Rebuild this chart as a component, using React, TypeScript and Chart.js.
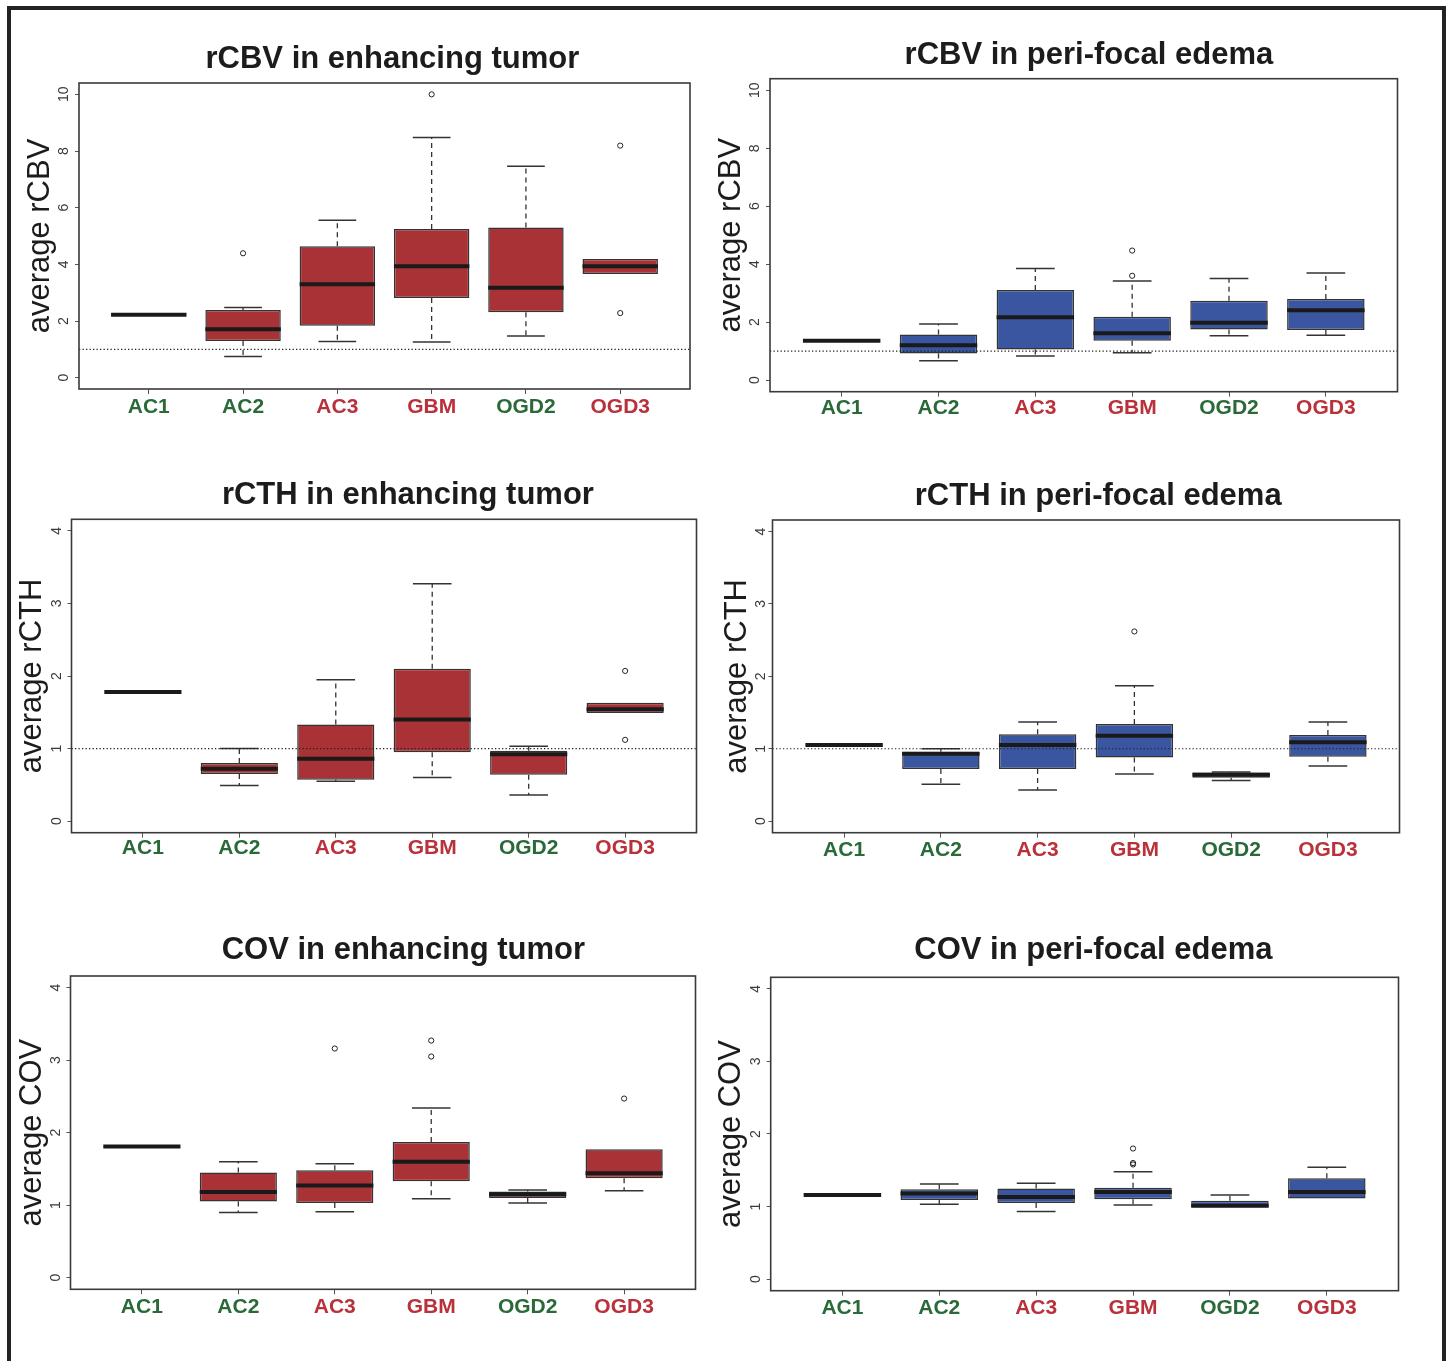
import React, { useEffect, useRef } from 'react';
import { Chart, registerables } from 'chart.js';

Chart.register(...registerables);
Chart.defaults.font.family = '"Liberation Sans", Arial, sans-serif';

// ---------- categories & ticks ----------
const categories = ['AC1', 'AC2', 'AC3', 'GBM', 'OGD2', 'OGD3'];
const categoryGroup = ['low', 'low', 'high', 'high', 'low', 'high'];
const tickValuesCBV = [0, 2, 4, 6, 8, 10];
const tickValuesSmall = [0, 1, 2, 3, 4];

// ---------- rCBV in enhancing tumor ----------
const rcbvTumorLow = [2.22, 0.75, 1.28, 1.26, 1.47, 3.66];
const rcbvTumorQ1 = [2.22, 1.29, 1.83, 2.81, 2.31, 3.66];
const rcbvTumorMed = [2.22, 1.71, 3.30, 3.93, 3.17, 3.93];
const rcbvTumorQ3 = [2.22, 2.39, 4.64, 5.25, 5.30, 4.19];
const rcbvTumorHigh = [2.22, 2.48, 5.56, 8.48, 7.46, 4.19];
const rcbvTumorOut = [[], [4.39], [], [10.0], [], [8.19, 2.28]];

// ---------- rCBV in peri-focal edema ----------
const rcbvEdemaLow = [1.36, 0.67, 0.83, 0.94, 1.53, 1.55];
const rcbvEdemaQ1 = [1.36, 0.92, 1.06, 1.36, 1.75, 1.73];
const rcbvEdemaMed = [1.36, 1.20, 2.17, 1.62, 1.98, 2.41];
const rcbvEdemaQ3 = [1.36, 1.57, 3.11, 2.19, 2.74, 2.80];
const rcbvEdemaHigh = [1.36, 1.94, 3.85, 3.42, 3.51, 3.70];
const rcbvEdemaOut = [[], [], [], [4.47, 3.60], [], []];

// ---------- rCTH in enhancing tumor ----------
const rcthTumorLow = [1.78, 0.49, 0.55, 0.60, 0.36, 1.49];
const rcthTumorQ1 = [1.78, 0.65, 0.57, 0.95, 0.64, 1.49];
const rcthTumorMed = [1.78, 0.72, 0.86, 1.40, 0.92, 1.54];
const rcthTumorQ3 = [1.78, 0.80, 1.33, 2.10, 0.97, 1.63];
const rcthTumorHigh = [1.78, 1.00, 1.95, 3.27, 1.03, 1.63];
const rcthTumorOut = [[], [], [], [], [], [2.07, 1.12]];

// ---------- rCTH in peri-focal edema ----------
const rcthEdemaLow = [1.05, 0.51, 0.43, 0.65, 0.56, 0.76];
const rcthEdemaQ1 = [1.05, 0.72, 0.72, 0.88, 0.60, 0.89];
const rcthEdemaMed = [1.05, 0.93, 1.05, 1.18, 0.64, 1.09];
const rcthEdemaQ3 = [1.05, 0.96, 1.20, 1.34, 0.67, 1.19];
const rcthEdemaHigh = [1.05, 1.00, 1.37, 1.87, 0.68, 1.37];
const rcthEdemaOut = [[], [], [], [2.62], [], []];

// ---------- COV in enhancing tumor ----------
const covTumorLow = [1.81, 0.90, 0.91, 1.09, 1.03, 1.20];
const covTumorQ1 = [1.81, 1.05, 1.03, 1.33, 1.10, 1.37];
const covTumorMed = [1.81, 1.18, 1.27, 1.60, 1.15, 1.44];
const covTumorQ3 = [1.81, 1.45, 1.48, 1.87, 1.19, 1.77];
const covTumorHigh = [1.81, 1.60, 1.57, 2.34, 1.21, 1.77];
const covTumorOut = [[], [], [3.16], [3.27, 3.05], [], [2.47]];

// ---------- COV in peri-focal edema ----------
const covEdemaLow = [1.16, 1.03, 0.93, 1.02, 0.99, 1.11];
const covEdemaQ1 = [1.16, 1.09, 1.05, 1.10, 0.99, 1.11];
const covEdemaMed = [1.16, 1.18, 1.13, 1.20, 1.01, 1.20];
const covEdemaQ3 = [1.16, 1.24, 1.25, 1.26, 1.08, 1.39];
const covEdemaHigh = [1.16, 1.31, 1.32, 1.48, 1.16, 1.54];
const covEdemaOut = [[], [], [], [1.80, 1.60, 1.58], [], []];

// ---------- styles ----------
const RED_FILL = '#a83236';
const BLUE_FILL = '#3a56a0';
const GREEN_LABEL = '#2a6a39';
const RED_LABEL = '#b9313a';
const INK = '#1c1c1c';
const LINE = '#333333';

type Panel = {
  title: string;
  axisTitle: string;
  lo: number[]; q1: number[]; med: number[]; q3: number[]; hi: number[]; out: number[][];
  fill: string;
  ymin: number; ymax: number; ticks: number[];
  refLine: number | null;
  // layout (page px)
  L: number; R: number; T: number; B: number;
  titleCx: number; titleCy: number; axisCx: number; tickOff: number; xLabelGap: number;
};

const panels: Panel[] = [
  {
    title: 'rCBV in enhancing tumor', axisTitle: 'average rCBV',
    lo: rcbvTumorLow, q1: rcbvTumorQ1, med: rcbvTumorMed, q3: rcbvTumorQ3, hi: rcbvTumorHigh, out: rcbvTumorOut,
    fill: RED_FILL, ymin: -0.4, ymax: 10.4, ticks: tickValuesCBV, refLine: 1,
    L: 79, R: 690, T: 83, B: 389, titleCx: 392.5, titleCy: 59, axisCx: 40.4, tickOff: 15, xLabelGap: 17.8,
  },
  {
    title: 'rCBV in peri-focal edema', axisTitle: 'average rCBV',
    lo: rcbvEdemaLow, q1: rcbvEdemaQ1, med: rcbvEdemaMed, q3: rcbvEdemaQ3, hi: rcbvEdemaHigh, out: rcbvEdemaOut,
    fill: BLUE_FILL, ymin: -0.4, ymax: 10.4, ticks: tickValuesCBV, refLine: 1,
    L: 770, R: 1397.5, T: 78.7, B: 391.7, titleCx: 1089, titleCy: 55, axisCx: 731.4, tickOff: 15, xLabelGap: 16.1,
  },
  {
    title: 'rCTH in enhancing tumor', axisTitle: 'average rCTH',
    lo: rcthTumorLow, q1: rcthTumorQ1, med: rcthTumorMed, q3: rcthTumorQ3, hi: rcthTumorHigh, out: rcthTumorOut,
    fill: RED_FILL, ymin: -0.16, ymax: 4.16, ticks: tickValuesSmall, refLine: 1,
    L: 71.5, R: 696.5, T: 519.3, B: 832.7, titleCx: 408, titleCy: 495.7, axisCx: 32.4, tickOff: 14, xLabelGap: 15.8,
  },
  {
    title: 'rCTH in peri-focal edema', axisTitle: 'average rCTH',
    lo: rcthEdemaLow, q1: rcthEdemaQ1, med: rcthEdemaMed, q3: rcthEdemaQ3, hi: rcthEdemaHigh, out: rcthEdemaOut,
    fill: BLUE_FILL, ymin: -0.16, ymax: 4.16, ticks: tickValuesSmall, refLine: 1,
    L: 772.5, R: 1399.5, T: 520, B: 832.7, titleCx: 1098, titleCy: 496.7, axisCx: 737, tickOff: 11.5, xLabelGap: 17.5,
  },
  {
    title: 'COV in enhancing tumor', axisTitle: 'average COV',
    lo: covTumorLow, q1: covTumorQ1, med: covTumorMed, q3: covTumorQ3, hi: covTumorHigh, out: covTumorOut,
    fill: RED_FILL, ymin: -0.16, ymax: 4.16, ticks: tickValuesSmall, refLine: null,
    L: 70.5, R: 695.5, T: 976, B: 1289.3, titleCx: 403.6, titleCy: 950.7, axisCx: 32.4, tickOff: 14.5, xLabelGap: 17.5,
  },
  {
    title: 'COV in peri-focal edema', axisTitle: 'average COV',
    lo: covEdemaLow, q1: covEdemaQ1, med: covEdemaMed, q3: covEdemaQ3, hi: covEdemaHigh, out: covEdemaOut,
    fill: BLUE_FILL, ymin: -0.16, ymax: 4.16, ticks: tickValuesSmall, refLine: null,
    L: 770.7, R: 1398.5, T: 977.3, B: 1290.7, titleCx: 1093.4, titleCy: 950, axisCx: 731.4, tickOff: 14.7, xLabelGap: 17.8,
  },
];

const TITLE_SIZE = 31;
const TITLE_LH = TITLE_SIZE * 1.2;
const XLAB_SIZE = 21;
const XLAB_LH = XLAB_SIZE * 1.2;
const YTICK_SIZE = 14;
const X_TICK_LEN = 5;
const Y_TICK_LEN = 4;

function measure(text: string, font: string) {
  const c = document.createElement('canvas').getContext('2d');
  if (!c) return text.length * 8;
  c.font = font;
  return c.measureText(text).width;
}

function geometry(p: Panel) {
  const x0 = Math.floor(p.axisCx - TITLE_LH / 2);
  const padL = p.axisCx - TITLE_LH / 2 - x0;
  const yW = p.L - p.axisCx + TITLE_LH / 2;
  const W = Math.round(2 * (p.titleCx - x0) - padL);
  const rW = x0 + W - p.R;
  const y0 = Math.floor(p.titleCy - TITLE_LH / 2);
  const padT = p.titleCy - TITLE_LH / 2 - y0;
  const titlePadBottom = p.T - (p.titleCy + TITLE_LH / 2);
  const H = Math.ceil(p.B + 44 - y0);
  const xH = y0 + H - p.B;
  return { x0, y0, W, H, padL, padT, yW, rW, xH, titlePadBottom };
}

function BoxPanel({ p }: { p: Panel }) {
  const ref = useRef<HTMLCanvasElement>(null);
  const g = geometry(p);

  useEffect(() => {
    if (!ref.current) return;
    const yFont = `${YTICK_SIZE}px "Liberation Sans", Arial, sans-serif`;
    const widest = Math.max(...p.ticks.map((v) => measure(String(v), yFont)));
    const yPad = p.tickOff - Y_TICK_LEN - widest / 2;
    const xPad = p.xLabelGap - X_TICK_LEN - XLAB_LH / 2;

    const boxData = categories.map((_, i) => ({ x: i + 1, y: [p.q1[i], p.q3[i]] }));
    const outData = p.out.flatMap((arr, i) => arr.map((v) => ({ x: i + 1, y: v })));

    const extras = {
      id: 'boxExtras',
      afterDatasetsDraw(chart: any) {
        const { ctx, chartArea } = chart;
        const xs = chart.scales.x;
        const ys = chart.scales.y;
        const bars = chart.getDatasetMeta(0).data;
        ctx.save();
        // whiskers + staples
        categories.forEach((_, i) => {
          const xc = xs.getPixelForValue(i + 1);
          const half = bars[i].width / 2;
          const staple = half / 2;
          const segs: [number, number][] = [];
          if (p.hi[i] > p.q3[i]) segs.push([p.q3[i], p.hi[i]]);
          if (p.lo[i] < p.q1[i]) segs.push([p.q1[i], p.lo[i]]);
          segs.forEach(([from, to]) => {
            ctx.strokeStyle = LINE;
            ctx.lineWidth = 1.3;
            ctx.setLineDash([5, 4]);
            ctx.beginPath();
            ctx.moveTo(xc, ys.getPixelForValue(from));
            ctx.lineTo(xc, ys.getPixelForValue(to));
            ctx.stroke();
            ctx.setLineDash([]);
            ctx.lineWidth = 1.5;
            ctx.beginPath();
            ctx.moveTo(xc - staple, ys.getPixelForValue(to));
            ctx.lineTo(xc + staple, ys.getPixelForValue(to));
            ctx.stroke();
          });
        });
        // reference line
        if (p.refLine !== null) {
          const yy = ys.getPixelForValue(p.refLine);
          ctx.strokeStyle = '#222';
          ctx.lineWidth = 1.2;
          ctx.setLineDash([1.3, 2.2]);
          ctx.beginPath();
          ctx.moveTo(chartArea.left, yy);
          ctx.lineTo(chartArea.right, yy);
          ctx.stroke();
          ctx.setLineDash([]);
        }
        // medians
        categories.forEach((_, i) => {
          const xc = xs.getPixelForValue(i + 1);
          const half = bars[i].width / 2;
          const yy = ys.getPixelForValue(p.med[i]);
          ctx.strokeStyle = '#1a1a1a';
          ctx.lineWidth = 4;
          ctx.lineCap = 'butt';
          ctx.beginPath();
          ctx.moveTo(xc - half, yy);
          ctx.lineTo(xc + half, yy);
          ctx.stroke();
        });
        // plot frame
        ctx.strokeStyle = '#3a3a3a';
        ctx.lineWidth = 1.6;
        ctx.strokeRect(chartArea.left, chartArea.top, chartArea.right - chartArea.left, chartArea.bottom - chartArea.top);
        ctx.restore();
      },
    };

    const chart = new Chart(ref.current, {
      type: 'bar',
      data: {
        datasets: [
          {
            type: 'bar',
            data: boxData as any,
            backgroundColor: p.fill,
            borderColor: LINE,
            borderWidth: 1.5,
            borderSkipped: false,
            barPercentage: 0.8,
            categoryPercentage: 1,
          },
          {
            type: 'scatter',
            data: outData as any,
            pointRadius: 2.6,
            pointBorderWidth: 1,
            pointBorderColor: '#222',
            pointBackgroundColor: 'rgba(0,0,0,0)',
            showLine: false,
          } as any,
        ],
      },
      options: {
        responsive: false,
        animation: false,
        events: [],
        layout: { padding: { left: g.padL, top: g.padT, right: 0, bottom: 0 } },
        plugins: {
          legend: { display: false },
          tooltip: { enabled: false },
          title: {
            display: true,
            text: p.title,
            color: INK,
            font: { size: TITLE_SIZE, weight: 'bold', lineHeight: 1.2 },
            padding: { top: 0, bottom: g.titlePadBottom },
          },
        },
        scales: {
          x: {
            type: 'linear',
            min: 0.26,
            max: 6.74,
            bounds: 'data',
            offset: false,
            afterBuildTicks: (s: any) => {
              s.ticks = categories.map((_, i) => ({ value: i + 1 }));
            },
            afterFit: (s: any) => {
              s.height = g.xH;
            },
            grid: { display: true, drawOnChartArea: false, drawTicks: true, tickLength: X_TICK_LEN, color: '#555', offset: false },
            border: { display: false },
            ticks: {
              autoSkip: false,
              minRotation: 0,
              maxRotation: 0,
              padding: xPad,
              font: { size: XLAB_SIZE, weight: 'bold', lineHeight: 1.2 },
              color: (ctx: any) => (categoryGroup[ctx.index] === 'low' ? GREEN_LABEL : RED_LABEL),
              callback: (v: any) => categories[Math.round(Number(v)) - 1] ?? '',
            },
          },
          y: {
            type: 'linear',
            min: p.ymin,
            max: p.ymax,
            bounds: 'data',
            afterBuildTicks: (s: any) => {
              s.ticks = p.ticks.map((v) => ({ value: v }));
            },
            afterFit: (s: any) => {
              s.width = g.yW;
            },
            grid: { display: true, drawOnChartArea: false, drawTicks: true, tickLength: Y_TICK_LEN, color: '#555' },
            border: { display: false },
            ticks: {
              autoSkip: false,
              minRotation: 90,
              maxRotation: 90,
              crossAlign: 'center',
              padding: yPad,
              font: { size: YTICK_SIZE },
              color: '#3a3a3a',
              callback: (v: any) => String(v),
            },
            title: {
              display: true,
              text: p.axisTitle,
              color: INK,
              font: { size: TITLE_SIZE, lineHeight: 1.2 },
              padding: 0,
            },
          },
          pad: {
            type: 'linear',
            position: 'right',
            display: true,
            grid: { display: false },
            border: { display: false },
            ticks: { display: false },
            afterFit: (s: any) => {
              s.width = g.rW;
            },
          },
        } as any,
      },
      plugins: [extras],
    });
    return () => chart.destroy();
  }, []);

  return (
    <canvas
      ref={ref}
      width={g.W}
      height={g.H}
      style={{ position: 'absolute', left: g.x0, top: g.y0, width: g.W, height: g.H }}
    />
  );
}

export default function App() {
  return (
    <div
      style={{
        position: 'absolute',
        left: 0,
        top: 0,
        width: 1450,
        height: 1361,
        overflow: 'hidden',
        background: '#ffffff',
      }}
    >
      <div
        style={{
          position: 'absolute',
          left: 7,
          top: 6,
          width: 1431,
          height: 1420,
          borderTop: '4px solid #222',
          borderLeft: '4px solid #222',
          borderRight: '4px solid #222',
        }}
      />
      {panels.map((p, i) => (
        <BoxPanel key={i} p={p} />
      ))}
    </div>
  );
}
